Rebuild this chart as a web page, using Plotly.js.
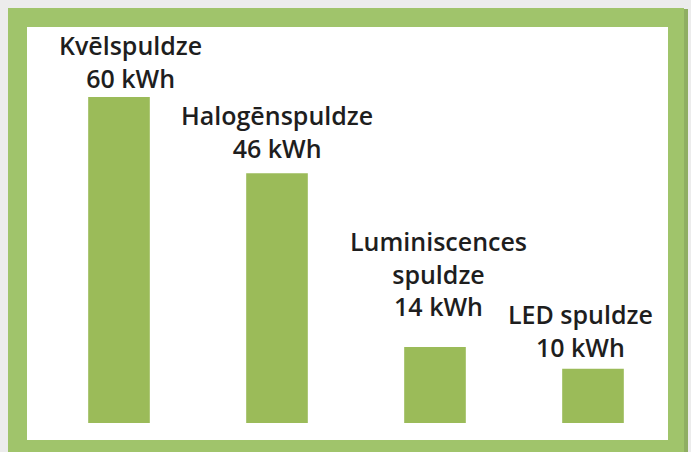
<!DOCTYPE html>
<html>
<head>
<meta charset="utf-8">
<script src="https://cdn.plot.ly/plotly-3.0.1.min.js"></script>
<style>html,body{margin:0;padding:0;background:#ececec;}#chart{width:691px;height:452px;}</style>
</head>
<body>
<div id="chart"></div>
<script>
const categories = ['Kvēlspuldze', 'Halogēnspuldze', 'Luminiscences<br>spuldze', 'LED spuldze'];
const values = [60, 46, 14, 10];
const unit = 'kWh';

const labelXShift = [11, 0, 3, -13];
const labelYShift = [0, 6, 22, 3];

const trace = {
  type: 'bar',
  x: categories,
  y: values,
  width: 0.39,
  marker: {color: '#9bbb59'},
  hoverinfo: 'none'
};

const W = 691, H = 452, ml = 40, mr = 19, mt = 20, mb = 29;
const pw = W - ml - mr, ph = H - mt - mb;
const px = v => (v - ml) / pw;
const py = v => (H - mb - v) / ph;

const annotations = categories.map((c, i) => ({
  x: c, y: values[i], xref: 'x', yref: 'y',
  text: c + '<br>' + values[i] + ' ' + unit,
  showarrow: false, xanchor: 'center', yanchor: 'bottom',
  xshift: labelXShift[i], yshift: labelYShift[i],
  font: {family: 'Open Sans, sans-serif', size: 25, color: '#1e1e1e', weight: 600}
}));

const layout = {
  width: W, height: H,
  margin: {l: ml, r: mr, t: mt, b: mb},
  paper_bgcolor: '#ececec',
  plot_bgcolor: 'rgba(0,0,0,0)',
  showlegend: false,
  bargap: 0.61,
  xaxis: {type: 'category', visible: false, range: [-0.5, 3.5], fixedrange: true},
  yaxis: {visible: false, range: [0, 74.2], fixedrange: true},
  shapes: [
    {type: 'rect', xref: 'paper', yref: 'paper', layer: 'below',
     x0: px(10), x1: px(688), y0: py(470), y1: py(9),
     fillcolor: '#8fae62', line: {width: 0}},
    {type: 'rect', xref: 'paper', yref: 'paper', layer: 'below',
     x0: px(8), x1: px(684), y0: py(470), y1: py(8),
     fillcolor: '#a0c46b', line: {width: 0}},
    {type: 'rect', xref: 'paper', yref: 'paper', layer: 'below',
     x0: px(27), x1: px(668), y0: py(440), y1: py(27),
     fillcolor: '#ffffff', line: {width: 0}}
  ],
  annotations: annotations
};

Plotly.newPlot('chart', [trace], layout, {displayModeBar: false, staticPlot: true});
</script>
</body>
</html>
